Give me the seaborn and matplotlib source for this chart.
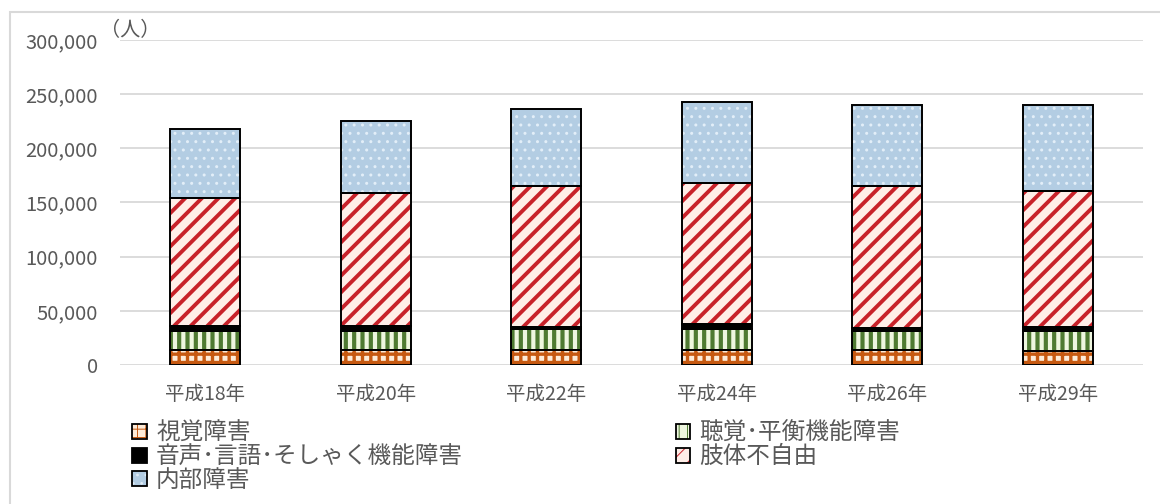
import matplotlib
matplotlib.use('Agg')
import matplotlib.pyplot as plt
import matplotlib.patches as mpatches
from matplotlib.ticker import FuncFormatter
from matplotlib.legend_handler import HandlerTuple
import seaborn as sns
import pandas as pd
import numpy as np

# ---- data ----
years = ['平成18年', '平成20年', '平成22年', '平成24年', '平成26年', '平成29年']
visual = [13800, 13800, 13800, 13800, 13800, 13100]
hearing = [18000, 17800, 19200, 19000, 17800, 18100]
speech = [4000, 4200, 2500, 4600, 2700, 4300]
limb = [118600, 123200, 129700, 130900, 130900, 125100]
internal = [63400, 66500, 71400, 74700, 74800, 79400]
series_names = ['視覚障害', '聴覚･平衡機能障害', '音声･言語･そしゃく機能障害', '肢体不自由', '内部障害']
y_ticks = [0, 50000, 100000, 150000, 200000, 250000, 300000]
unit_label = '（人）'

series_values = [visual, hearing, speech, limb, internal]
styles = [
    dict(face='#FDEBD8', hatch='++', hc='#C65911', hlw=2.4),
    dict(face='#EEF6DF', hatch='||', hc='#4F7A32', hlw=3.0),
    dict(face='#000000', hatch=None, hc='#000000', hlw=1.0),
    dict(face='#FFEEE8', hatch='//', hc='#C8222A', hlw=2.8),
    dict(face='#B3CDE3', hatch='..', hc='#E2EEF8', hlw=1.0),
]

sns.set_style('white')
plt.rcParams['font.family'] = ['Noto Sans CJK JP', 'DejaVu Sans']
text_color = '#595959'

W, H = 1160, 504
fig = plt.figure(figsize=(W / 100, H / 100), dpi=100)
ax = fig.add_axes([120 / W, 1 - 365 / H, (1143 - 120) / W, (365 - 40) / H])

bar_w = 0.41
bottom = np.zeros(len(years))
for name, vals, st in zip(series_names, series_values, styles):
    plt.rcParams['hatch.linewidth'] = st['hlw']
    df = pd.DataFrame({'year': years, 'value': vals})
    n_before = len(ax.patches)
    sns.barplot(data=df, x='year', y='value', bottom=bottom, color=st['face'],
                width=bar_w, saturation=1, errorbar=None, ax=ax, zorder=2)
    for p in ax.patches[n_before:]:
        p.set_facecolor(st['face'])
        p.set_edgecolor(st['hc'])
        p.set_linewidth(0)
        if st['hatch']:
            p.set_hatch(st['hatch'])
        if hasattr(p, 'set_hatch_linewidth'):
            p.set_hatch_linewidth(st['hlw'])
    # black outline layer
    sns.barplot(data=df, x='year', y='value', bottom=bottom, color='black', fill=False,
                width=bar_w, linewidth=1.4, errorbar=None, ax=ax, zorder=3)
    bottom = bottom + np.array(vals)

ax.set_ylim(0, 300000)
ax.set_yticks(y_ticks)
ax.yaxis.set_major_formatter(FuncFormatter(lambda v, p: f'{int(v):,}'))
ax.grid(axis='y', color='#D9D9D9', linewidth=1.3)
ax.grid(axis='x', visible=False)
ax.set_axisbelow(True)
for s in ax.spines.values():
    s.set_visible(False)
ax.tick_params(axis='y', length=0, pad=16, labelsize=14.5, labelcolor=text_color)
ax.tick_params(axis='x', length=0, pad=14, labelsize=14, labelcolor=text_color)
ax.set_xlabel('')
ax.set_ylabel('')

fig.text(100 / W, 1 - 31 / H, unit_label, ha='left', va='center', fontsize=14.5, color=text_color)

# legend
handles = []
for name, st in zip(series_names, styles):
    plt.rcParams['hatch.linewidth'] = st['hlw'] * 0.7
    fill_p = mpatches.Patch(facecolor=st['face'], edgecolor=st['hc'],
                            hatch=st['hatch'], linewidth=0)
    edge_p = mpatches.Patch(facecolor='none', edgecolor='black', linewidth=1.3)
    handles.append((fill_p, edge_p))
order = [0, 2, 4, 1, 3]
leg = fig.legend([handles[i] for i in order], [series_names[i] for i in order],
                 handler_map={tuple: HandlerTuple(ndivide=1)},
                 loc='upper left', bbox_to_anchor=(132 / W, 1 - 422 / H), ncol=2,
                 frameon=False, fontsize=17, handlelength=0.62, handleheight=0.62,
                 handletextpad=0.4, labelspacing=0.02, columnspacing=9.0,
                 borderpad=0, borderaxespad=0)
for t in leg.get_texts():
    t.set_color(text_color)

fig.add_artist(mpatches.Rectangle((10 / W, -0.1), 1.2, 1.1 - 12 / H, transform=fig.transFigure,
                                  fill=False, edgecolor='#D9D9D9', linewidth=1.5))

fig.savefig('out.png', dpi=100)
